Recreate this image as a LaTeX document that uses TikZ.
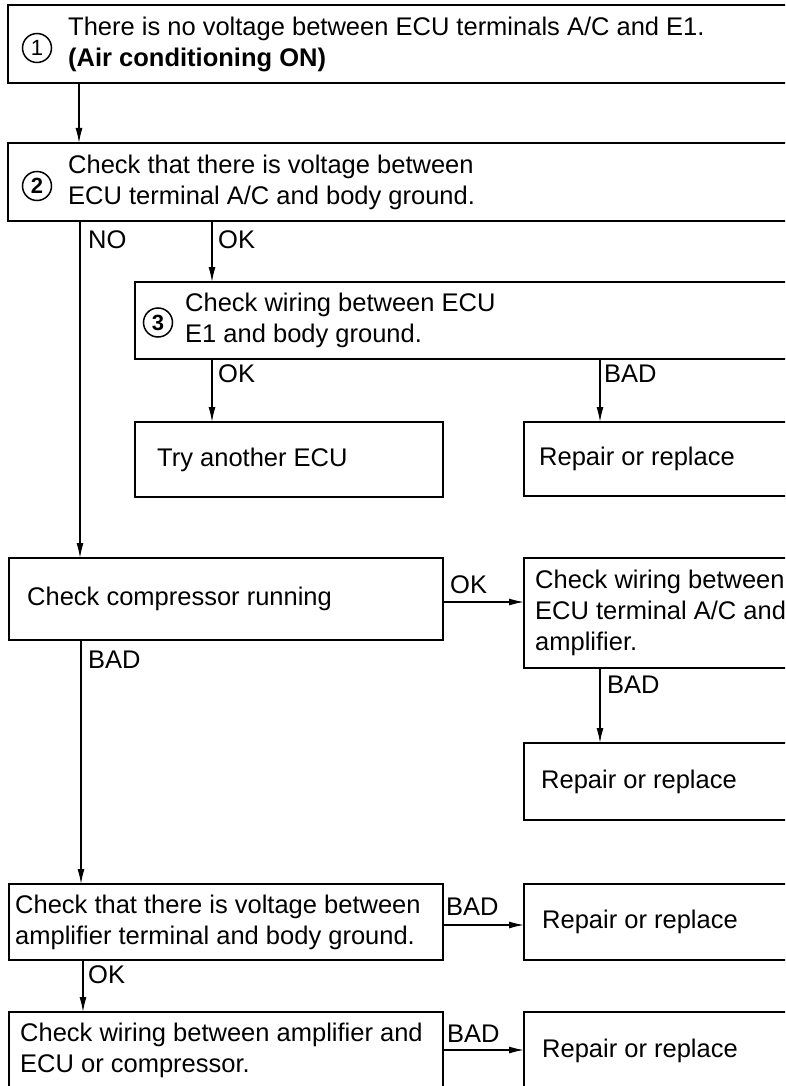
\documentclass[tikz,border=0pt]{standalone}
\usepackage{fontspec}
\setmainfont{Liberation Sans}
\usetikzlibrary{arrows.meta,positioning,calc}

\begin{document}
\begin{tikzpicture}[x=1pt,y=-1pt,font=\fontsize{25.5}{31}\selectfont,
      box/.style={draw,line width=2.4pt,anchor=north west,inner sep=0pt,outer sep=0pt},
      txt/.style={anchor=west,align=left,inner sep=0pt},
      lbl/.style={anchor=base west,inner sep=0pt},
      circ/.style={draw,circle,line width=1.5pt,inner sep=0pt,minimum size=29pt,
        font=\fontsize{22}{22}\selectfont\bfseries},
      arr/.style={line width=1.3pt,-{Latex[length=15pt,width=7pt]}}]
    \path[use as bounding box] (0,0) rectangle (785,1086);
    \fill[white] (0,0) rectangle (785,1086);
    \clip (0,0) rectangle (785,1086);
    \node[box,minimum width=800pt,minimum height=78pt](b1) at (8,5){};
    \node[box,minimum width=800pt,minimum height=78pt](b2) at (8,143){};
    \node[box,minimum width=680pt,minimum height=77pt](b3) at (135,282){};
    \node[box,minimum width=308pt,minimum height=75pt](tryecu) at (135,422){};
    \node[box,minimum width=300pt,minimum height=74pt](rep1) at (524,422){};
    \node[box,minimum width=434pt,minimum height=82pt](comp) at (9,558){};
    \node[box,minimum width=300pt,minimum height=110pt](wire1) at (524,558){};
    \node[box,minimum width=300pt,minimum height=77pt](rep2) at (524,743){};
    \node[box,minimum width=434pt,minimum height=76pt](amp) at (9,884){};
    \node[box,minimum width=300pt,minimum height=76pt](rep3) at (524,884){};
    \node[box,minimum width=434pt,minimum height=77pt](wire2) at (9,1012){};
    \node[box,minimum width=300pt,minimum height=77pt](rep4) at (524,1012){};
    \node[circ,font=\fontsize{22}{22}\selectfont](c1) at ([xshift=29pt,yshift=-4pt]b1.west){1};
    \node[circ](c2) at ([xshift=29pt,yshift=-4pt]b2.west){2};
    \node[circ](c3) at ([xshift=23pt,yshift=-2pt]b3.west){3};
    \node[txt](t1) at ([xshift=60pt]b1.west){There is no voltage between ECU terminals A/C and E1.\\ \textbf{(Air conditioning ON)}};
    \node[txt](t2) at ([xshift=60pt]b2.west){Check that there is voltage between\\ ECU terminal A/C and body ground.};
    \node[txt](t3) at ([xshift=50pt]b3.west){Check wiring between ECU\\ E1 and body ground.};
    \node[txt](ttry) at ([xshift=22pt]tryecu.west){Try another ECU};
    \node[txt](tcomp) at ([xshift=18pt]comp.west){Check compressor running};
    \node[txt](twire1) at ([xshift=11pt]wire1.west){Check wiring between\\ ECU terminal A/C and\\ amplifier.};
    \node[txt](tamp) at ([xshift=6pt]amp.west){Check that there is voltage between\\ amplifier terminal and body ground.};
    \node[txt](twire2) at ([xshift=11pt]wire2.west){Check wiring between amplifier and\\ ECU or compressor.};
    \foreach \n/\dx in {rep1/15,rep2/17,rep3/18,rep4/18}{
      \node[txt](t\n) at ([xshift=\dx pt]\n.west){Repair or replace};}
    \draw[arr] ([xshift=71pt]b1.south west) -- ([xshift=71pt]b2.north west);
    \draw[arr] ([xshift=72pt]b2.south west) -- ([xshift=71pt]comp.north west);
    \draw[arr] ([xshift=204pt]b2.south west) -- ([xshift=77pt]b3.north west);
    \draw[arr] ([xshift=77pt]b3.south west) -- ([xshift=77pt]tryecu.north west);
    \draw[arr] ([xshift=465pt]b3.south west) -- ([xshift=76pt]rep1.north west);
    \draw[arr] ([yshift=-44pt]comp.north east) -- ([yshift=-44pt]wire1.north west);
    \draw[arr] ([xshift=72pt]comp.south west) -- ([xshift=72pt]amp.north west);
    \draw[arr] ([xshift=76pt]wire1.south west) -- ([xshift=76pt]rep2.north west);
    \draw[arr] ([yshift=-41pt]amp.north east) -- ([yshift=-41pt]rep3.north west);
    \draw[arr] ([xshift=74pt]amp.south west) -- ([xshift=74pt]wire2.north west);
    \draw[arr] ([yshift=-38pt]wire2.north east) -- ([yshift=-38pt]rep4.north west);
    \node[lbl](lno) at ([xshift=80pt,yshift=-27pt]b2.south west){NO};
    \node[lbl](lok2) at ([xshift=210pt,yshift=-27pt]b2.south west){OK};
    \node[lbl](lok3) at ([xshift=83pt,yshift=-23pt]b3.south west){OK};
    \node[lbl](lbad3) at ([xshift=469pt,yshift=-23pt]b3.south west){BAD};
    \node[lbl](lokc) at ([xshift=7pt,yshift=-35pt]comp.north east){OK};
    \node[lbl](lbadc) at ([xshift=79pt,yshift=-28pt]comp.south west){BAD};
    \node[lbl](lbadw) at ([xshift=83pt,yshift=-25pt]wire1.south west){BAD};
    \node[lbl](lbada) at ([xshift=3pt,yshift=-31pt]amp.north east){BAD};
    \node[lbl](loka) at ([xshift=79pt,yshift=-23pt]amp.south west){OK};
    \node[lbl](lbadw2) at ([xshift=4pt,yshift=-30pt]wire2.north east){BAD};
  \end{tikzpicture}
\end{document}
